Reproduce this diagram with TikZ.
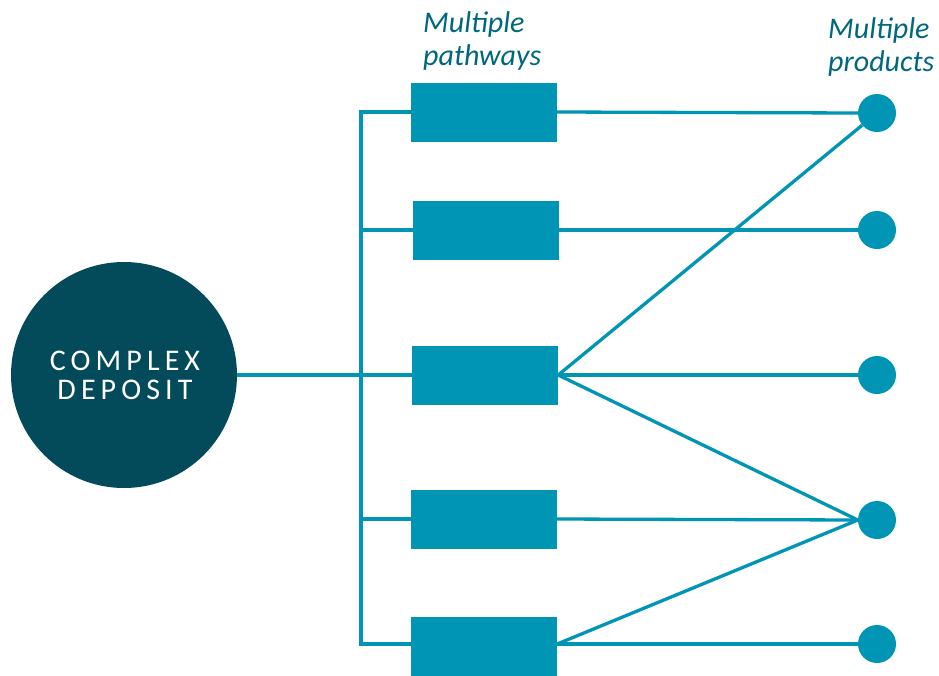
\documentclass[tikz,border=0pt]{standalone}
\usepackage{fontspec}
\setmainfont{Carlito}
\newfontfamily\depositfont[LetterSpace=17]{Carlito}
\definecolor{pathteal}{RGB}{0,149,180}
\definecolor{deepteal}{RGB}{3,74,90}
\definecolor{headteal}{RGB}{0,103,125}
\begin{document}
\begin{tikzpicture}[x=1pt,y=-1pt,
  link/.style={draw=pathteal, line width=3.3pt},
  pathbox/.style={rectangle, fill=pathteal, minimum width=146pt, minimum height=59pt, inner sep=0pt},
  product/.style={circle, fill=pathteal, minimum size=38pt, inner sep=0pt},
  heading/.style={text=headteal, font=\itshape\fontsize{30}{33}\selectfont, align=left, inner sep=0pt, anchor=base west}]
\useasboundingbox (0,0) rectangle (939,675);

% source deposit
\node[circle, fill=deepteal, minimum size=226pt, inner sep=0pt] (deposit) at (124,375) {};
\node[text=white, font=\depositfont\fontsize{30}{29}\selectfont, align=center, inner sep=0pt] (deplabel) at (125,375) {COMPLEX\\DEPOSIT};

% processing pathways
\node[pathbox] (p1) at (484,112) {};
\node[pathbox] (p2) at (486,230) {};
\node[pathbox] (p3) at (485,375) {};
\node[pathbox] (p4) at (484,519) {};
\node[pathbox] (p5) at (484,646) {};

% products
\node[product] (c1) at (877,113) {};
\node[product] (c2) at (877,230) {};
\node[product] (c3) at (877,375) {};
\node[product] (c4) at (877,520) {};
\node[product] (c5) at (877,644) {};

% headings (anchored on the baseline of the second line)
\node[heading] (hpath) at (423,65) {Multiple\\pathways};
\node[heading] (hprod) at (828,71) {Multiple\\products};

% distribution spine
\coordinate (spinetop) at (361,112);
\coordinate (spinebot) at (361,644);
\draw[link] (p1.west) -- (spinetop) -- (spinebot) -- (spinebot -| p5.west);
\draw[link] (spinetop |- p2.west) -- (p2.west);
\draw[link] (spinetop |- p4.west) -- (p4.west);
\draw[link] (deposit.east) -- (p3.west);

% pathway to product links
\draw[link] (p1.east) -- (c1.west);
\draw[link] (p2.east) -- (c2.west);
\draw[link] (p3.east) -- (c1);
\draw[link] (p3.east) -- (c3.west);
\draw[link] (p3.east) -- (c4.west);
\draw[link] (p4.east) -- (c4.west);
\draw[link] (p5.east |- spinebot) -- (c4.west);
\draw[link] (p5.east |- spinebot) -- (c5.west);
\end{tikzpicture}
\end{document}
